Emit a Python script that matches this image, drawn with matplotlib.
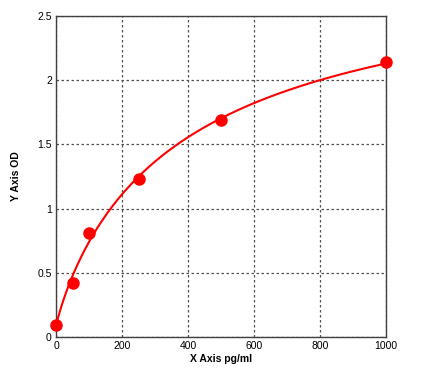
import numpy as np
import matplotlib
matplotlib.use("Agg")
import matplotlib.pyplot as plt

conc = [0, 50, 100, 250, 500, 1000]
od = [0.09, 0.42, 0.81, 1.23, 1.69, 2.14]
xticks = [0, 200, 400, 600, 800, 1000]
yticks = [0, 0.5, 1, 1.5, 2, 2.5]
yticklabels = ["0", "0.5", "1", "1.5", "2", "2.5"]

x = np.array(conc, float)
y = np.array(od, float)

# 4-parameter logistic fit (grid search on b, c; linear LSQ on a, d)
best = None
for b in np.linspace(0.3, 2.5, 111):
    for c in np.logspace(1, 4.5, 200):
        g = 1.0 / (1.0 + (x / c) ** b)
        A = np.vstack([g, 1 - g]).T
        coef, *_ = np.linalg.lstsq(A, y, rcond=None)
        r = np.sum((A @ coef - y) ** 2)
        if best is None or r < best[0]:
            best = (r, b, c, coef)
_, b, c, (a, d) = best
xf = np.linspace(0, 1000, 400)
gf = 1.0 / (1.0 + (xf / c) ** b)
yf = a * gf + d * (1 - gf)

plt.rcParams['font.family'] = ['Liberation Sans', 'DejaVu Sans']
fig = plt.figure(figsize=(4.39, 3.80), dpi=100)
ax = fig.add_axes([56/439, 1 - 337/380, 330/439, 321/380])
ax.plot(xf, yf, color='#ff0000', lw=1.5, zorder=3)
ax.plot(conc, od, 'o', color='#ff0000', ms=8, zorder=4, clip_on=False)
ax.set_xlim(0, 1000)
ax.set_ylim(0, 2.5)
ax.set_xticks(xticks)
ax.set_yticks(yticks)
ax.set_yticklabels(yticklabels)
ax.grid(True, color='#505050', linestyle=(0, (2, 2)), lw=0.9)
ax.tick_params(length=0, labelsize=7.5, pad=3)
for s in ax.spines.values():
    s.set_color('#404040')
    s.set_linewidth(1.0)
ax.set_xlabel('X Axis pg/ml', fontsize=7.5, fontweight='bold', labelpad=2)
ax.set_ylabel('Y Axis OD', fontsize=7.5, fontweight='bold', labelpad=12)
fig.savefig('out.png', dpi=100)
